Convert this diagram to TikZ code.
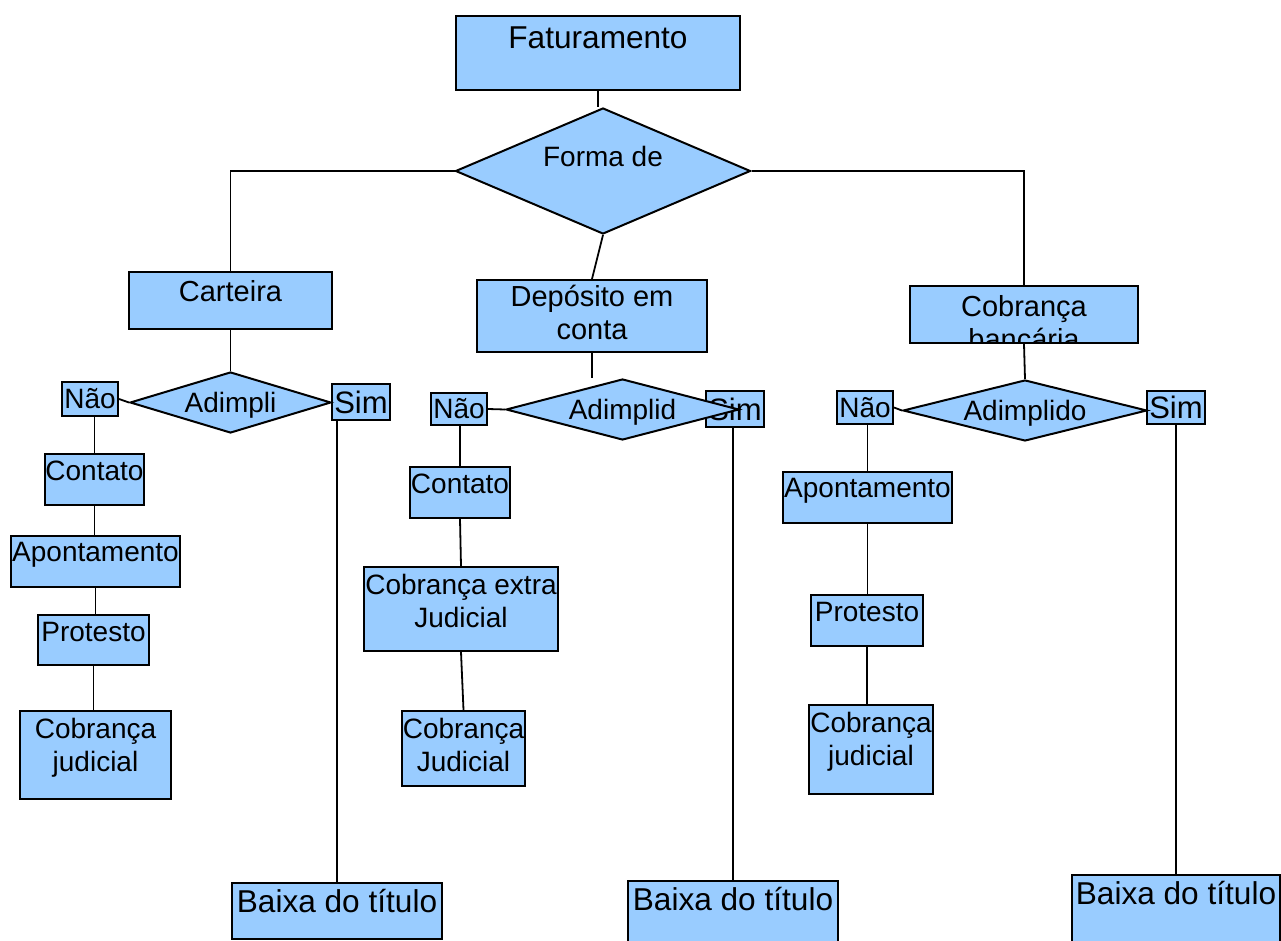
\documentclass[tikz,border=0pt]{standalone}
\usepackage{fontspec}
\setmainfont{Liberation Sans}
\usetikzlibrary{positioning, shapes.geometric}

\definecolor{azulcaixa}{HTML}{99CCFF}

\tikzset{
    caixa/.style={draw, fill=azulcaixa, line width=1pt, anchor=north west, inner sep=0pt},
    losango/.style={diamond, draw, fill=azulcaixa, line width=1pt, inner sep=0pt, text height=10pt, text depth=0pt, font=\fontsize{14}{16.5}\selectfont},
    resposta/.style={draw, fill=azulcaixa, line width=1pt, inner sep=0pt, font=\fontsize{14}{16.5}\selectfont},
    texto/.style={align=center, inner sep=0pt, font=\fontsize{14}{16.5}\selectfont},
    textomedio/.style={texto, font=\fontsize{14.5}{16.5}\selectfont},
    textogrande/.style={texto, font=\fontsize{15.8}{19}\selectfont},
    ligacao/.style={line width=0.9pt}
}

\begin{document}
\begin{tikzpicture}[x=0.5pt, y=-0.5pt]
    \clip (0,0) rectangle (1281,941);

    % Topo: faturamento e forma de pagamento
    \node[caixa, minimum width=142pt, minimum height=37pt] (fat) at (455,15) {};
    \node[textogrande, below=5.5pt of fat.north] (fat_txt) {Faturamento};
    \node[losango, aspect=2.34, minimum width=147.5pt, minimum height=63pt, text height=10pt, text depth=14pt] (forma) at (603,171) {Forma de};

    % Os tres ramos
    \node[caixa, minimum width=101.5pt, minimum height=28.5pt] (cart) at (128,271) {};
    \node[textomedio, below=4.5pt of cart.north] (cart_txt) {Carteira};
    \node[caixa, minimum width=115pt, minimum height=36pt] (dep) at (476,279) {};
    \node[textomedio, below=3pt of dep.north] (dep_txt) {Depósito em\\conta};
    \node[caixa, minimum width=114pt, minimum height=28.5pt] (cob) at (909,285) {};
    \begin{scope}
        \clip (cob.south west) rectangle (cob.north east);
        \node[textomedio, below=5pt of cob.north] (cob_txt) {Cobrança\\bancária};
    \end{scope}

    % Ramo carteira
    \node[resposta, minimum width=28pt, minimum height=17pt] (nao1) at (90,399) {Não};
    \node[resposta, font=\fontsize{15.5}{17}\selectfont, minimum width=29pt, minimum height=18pt] (sim1) at (361,402) {Sim};
    \node[losango, aspect=3.3, minimum width=100.5pt, minimum height=30.5pt] (adm1) at (230.5,402.5) {Adimpli};
    \node[caixa, minimum width=49.5pt, minimum height=25.5pt] (con1) at (44,453) {};
    \node[texto, below=4pt of con1.north] (con1_txt) {Contato};
    \node[caixa, minimum width=84.5pt, minimum height=25.5pt] (apo1) at (10,535) {};
    \node[texto, below=3.5pt of apo1.north] (apo1_txt) {Apontamento};
    \node[caixa, minimum width=55.5pt, minimum height=25pt] (pro1) at (37,614) {};
    \node[texto, below=4pt of pro1.north] (pro1_txt) {Protesto};
    \node[caixa, minimum width=75.5pt, minimum height=44pt] (jud1) at (19,710) {};
    \node[texto, below=4pt of jud1.north] (jud1_txt) {Cobrança\\judicial};
    \node[caixa, minimum width=105pt, minimum height=28pt] (bx1) at (231,882) {};
    \node[textogrande, below=3.5pt of bx1.north] (bx1_txt) {Baixa do título};

    % Ramo deposito em conta
    \node[resposta, minimum width=28pt, minimum height=16pt] (nao2) at (459,409) {Não};
    \node[resposta, font=\fontsize{15.5}{17}\selectfont, minimum width=29pt, minimum height=18pt] (sim2) at (735,409) {Sim};
    \node[losango, aspect=3.8, minimum width=116.5pt, minimum height=30.5pt] (adm2) at (622.5,409.5) {Adimplid};
    \node[caixa, minimum width=50pt, minimum height=25.5pt] (con2) at (409,466) {};
    \node[texto, below=4pt of con2.north] (con2_txt) {Contato};
    \node[caixa, minimum width=97pt, minimum height=42pt] (ext2) at (363,566) {};
    \node[texto, below=4pt of ext2.north] (ext2_txt) {Cobrança extra\\Judicial};
    \node[caixa, minimum width=61.5pt, minimum height=37.5pt] (jud2) at (401,710) {};
    \node[texto, below=4pt of jud2.north] (jud2_txt) {Cobrança\\Judicial};
    \node[caixa, minimum width=105pt, minimum height=40pt] (bx2) at (627,880) {};
    \node[textogrande, below=3.5pt of bx2.north] (bx2_txt) {Baixa do título};

    % Ramo cobranca bancaria
    \node[resposta, minimum width=28pt, minimum height=16.5pt] (nao3) at (865,407.5) {Não};
    \node[resposta, font=\fontsize{15.5}{17}\selectfont, minimum width=29pt, minimum height=16.5pt] (sim3) at (1176,407.5) {Sim};
    \node[losango, aspect=4, minimum width=122pt, minimum height=30.5pt] (adm3) at (1025,410.5) {Adimplido};
    \node[caixa, minimum width=84.5pt, minimum height=25.5pt] (apo3) at (782,471) {};
    \node[texto, below=3.5pt of apo3.north] (apo3_txt) {Apontamento};
    \node[caixa, minimum width=56pt, minimum height=25.5pt] (pro3) at (810,594) {};
    \node[texto, below=4pt of pro3.north] (pro3_txt) {Protesto};
    \node[caixa, minimum width=62pt, minimum height=44.5pt] (jud3) at (808,704) {};
    \node[texto, below=4pt of jud3.north] (jud3_txt) {Cobrança\\judicial};
    \node[caixa, minimum width=104pt, minimum height=43pt] (bx3) at (1071,874) {};
    \node[textogrande, below=3.5pt of bx3.north] (bx3_txt) {Baixa do título};

    % Ligacoes
    \draw[ligacao] (fat.south) -- (fat.south |- forma.north);
    \draw[ligacao] (forma.west) -- (cart.north |- forma.west) -- (cart.north);
    \draw[ligacao] (forma.east) -- (cob.north |- forma.east) -- (cob.north);
    \draw[ligacao] (forma.south) -- (dep.north);

    \draw[ligacao] (cart.south) -- (adm1.north);
    \draw[ligacao] (nao1.east) -- (adm1.west);
    \draw[ligacao] (con1.north |- nao1.south) -- (con1.north);
    \draw[ligacao] (con1.south) -- (con1.south |- apo1.north);
    \draw[ligacao] (apo1.south) -- (apo1.south |- pro1.north);
    \draw[ligacao] (pro1.south) -- (pro1.south |- jud1.north);
    \draw[ligacao] (bx1.north |- sim1.south) -- (bx1.north);

    \draw[ligacao] (dep.south) -- (dep.south |- adm2.north);
    \draw[ligacao] (nao2.east) -- (adm2.west);
    \draw[ligacao] (con2.north |- nao2.south) -- (con2.north);
    \draw[ligacao] (con2.south) -- (ext2.north);
    \draw[ligacao] (ext2.south) -- (jud2.north);
    \draw[ligacao] (bx2.north |- sim2.south) -- (bx2.north);

    \draw[ligacao] (cob.south) -- (adm3.north);
    \draw[ligacao] (nao3.east) -- (adm3.west);
    \draw[ligacao] (apo3.north |- nao3.south) -- (apo3.north);
    \draw[ligacao] (apo3.south) -- (apo3.south |- pro3.north);
    \draw[ligacao] (pro3.south) -- (pro3.south |- jud3.north);
    \draw[ligacao] (bx3.north |- sim3.south) -- (bx3.north);
\end{tikzpicture}
\end{document}
